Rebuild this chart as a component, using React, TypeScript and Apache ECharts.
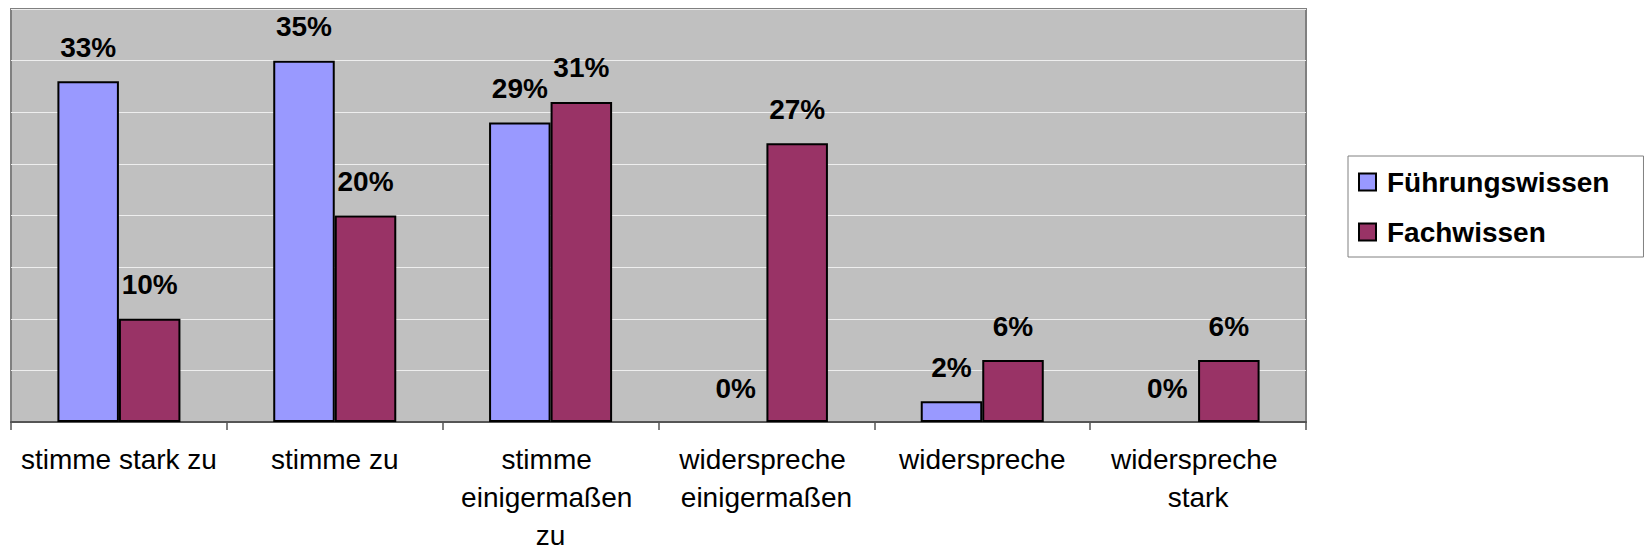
import React, { useEffect, useRef } from "react";
import * as echarts from "echarts";

const categories = [
  "stimme stark zu",
  "stimme zu",
  "stimme einigermaßen zu",
  "widerspreche einigermaßen",
  "widerspreche",
  "widerspreche stark",
];
const seriesNames = ["Führungswissen", "Fachwissen"];
const fuehrungswissen = [33, 35, 29, 0, 2, 0];
const fachwissen = [10, 20, 31, 27, 6, 6];
const colors = ["#9999FF", "#993366"];

const FONT = "'Liberation Sans', Arial, sans-serif";

export default function App() {
  const ref = useRef<HTMLDivElement>(null);
  useEffect(() => {
    if (!ref.current) return;
    const chart = echarts.init(ref.current, null, { renderer: "svg" });
    const mkSeries = (name: string, data: number[], color: string) => ({
      name,
      type: "bar",
      data: data.map((v) => ({
        value: v,
        itemStyle: v === 0 ? { borderWidth: 0 } : undefined,
      })),
      barGap: "0%",
      barCategoryGap: "43%",
      itemStyle: { color, borderColor: "#000", borderWidth: 2 },
      label: {
        show: true,
        position: "top",
        distance: 20,
        formatter: "{c}%",
        fontFamily: FONT,
        fontWeight: "bold",
        fontSize: 28,
        color: "#000",
      },
    });
    chart.setOption({
      animation: false,
      backgroundColor: "#fff",
      textStyle: { fontFamily: FONT },
      grid: {
        left: 11,
        top: 9,
        width: 1295,
        height: 413,
        show: true,
        backgroundColor: "#C0C0C0",
        borderColor: "#808080",
        borderWidth: 2,
        containLabel: false,
        outerBoundsMode: "none",
      },
      legend: {
        orient: "vertical",
        left: 1348,
        top: 156,
        backgroundColor: "#fff",
        borderColor: "#808080",
        borderWidth: 1,
        borderRadius: 0,
        padding: [12, 34, 11, 10],
        itemWidth: 17,
        itemHeight: 17,
        itemGap: 22,
        icon: "rect",
        selectedMode: false,
        textStyle: {
          fontFamily: FONT,
          fontWeight: "bold",
          fontSize: 28,
          color: "#000",
          padding: [0, 0, 0, 6],
        },
        data: seriesNames,
      },
      xAxis: {
        type: "category",
        data: categories,
        axisLine: { show: true, lineStyle: { color: "#555", width: 2 } },
        axisTick: { show: true, length: 8, lineStyle: { color: "#555", width: 1.5 } },
        axisLabel: {
          interval: 0,
          fontFamily: FONT,
          fontSize: 28,
          color: "#000",
          lineHeight: 38,
          margin: 18,
          width: 202,
          overflow: "break",
          align: "center",
        },
      },
      yAxis: {
        type: "value",
        min: 0,
        max: 40,
        interval: 5,
        axisLabel: { show: false },
        axisLine: { show: false },
        axisTick: { show: false },
        splitLine: { show: true, lineStyle: { color: "#EEEEEE", width: 1 } },
      },
      series: [
        mkSeries(seriesNames[0], fuehrungswissen, colors[0]),
        mkSeries(seriesNames[1], fachwissen, colors[1]),
      ],
    });
    return () => chart.dispose();
  }, []);
  return (
    <div
      ref={ref}
      style={{ position: "fixed", left: 0, top: 0, width: 1646, height: 554 }}
    />
  );
}
